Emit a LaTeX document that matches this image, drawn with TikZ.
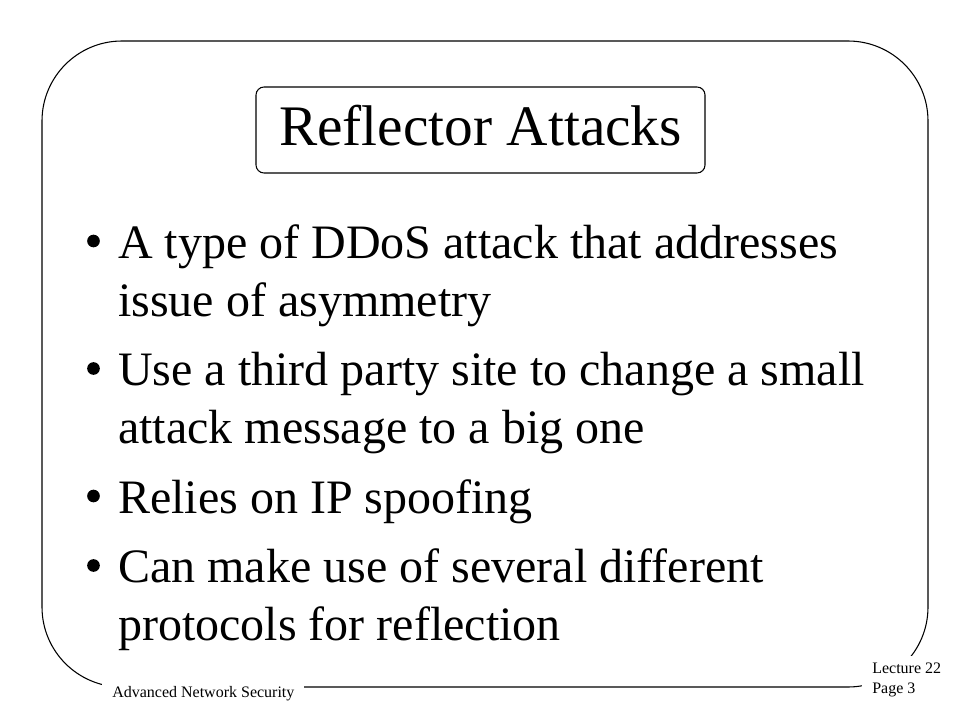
\documentclass[tikz,border=0pt]{standalone}
\usepackage{fontspec}
\setmainfont{Liberation Serif}
\begin{document}
\begin{tikzpicture}[x=0.75pt,y=-0.75pt,
    every node/.style={inner sep=0pt},
    item/.style={anchor=base west,align=left,font=\fontsize{36}{43.5}\selectfont},
    bul/.style={circle,fill,minimum size=9.5pt},
    foot/.style={anchor=base west,fill=white,inner xsep=7.5pt,inner ysep=5pt,align=left,font=\fontsize{12}{15}\selectfont}]
        %% Page
        \useasboundingbox (0,0) rectangle (960,720);
        %% Frame
        \draw[line width=0.8pt,rounded corners=60pt] (42,41) rectangle (928,687);
        %% Title
        \node[draw,line width=0.8pt,rounded corners=6pt,minimum width=336.75pt,minimum height=64.5pt,text depth=6.75pt,font=\fontsize{43}{50}\selectfont] (title) at (480.5,130) {Reflector Attacks};
        %% Bullets (a node's base is its last line)
        \node[item] (i1) at (118,316) {A type of DDoS attack that addresses\\issue of asymmetry};
        \node[item] (i2) at (118,443.5) {Use a third party site to change a small\\attack message to a big one};
        \node[item] (i3) at (118,513) {Relies on IP spoofing};
        \node[item] (i4) at (118,640.5) {Can make use of several different\\protocols for reflection};
        \node[bul] (d1) at (93.5,241) {};
        \node[bul] (d2) at (93.5,368.5) {};
        \node[bul] (d3) at (93.5,496) {};
        \node[bul] (d4) at (93.5,565.5) {};
        %% Footer
        \node[foot] (course) at (102,697) {Advanced Network Security};
        \node[foot] (page) at (862,693) {Lecture 22\\Page 3};
    \end{tikzpicture}
\end{document}
